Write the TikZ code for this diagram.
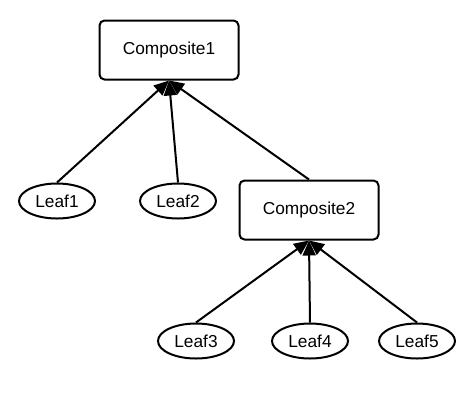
\documentclass[tikz,border=0pt]{standalone}
\usepackage{fontspec}
\setmainfont{Liberation Sans}
\usetikzlibrary{shapes.geometric,arrows.meta}
\begin{document}
\begin{tikzpicture}[x=1pt,y=-1pt,
  comp/.style={draw=black,line width=2pt,rounded corners=5pt,minimum width=139pt,minimum height=59pt,inner sep=0pt,font=\fontsize{17.3}{19}\selectfont},
  leaf/.style={draw=black,ellipse,line width=2pt,minimum width=76pt,minimum height=35pt,inner sep=0pt,font=\fontsize{17.3}{19}\selectfont},
  link/.style={line width=2pt,-{Triangle[length=15pt,width=13pt]}}]
\useasboundingbox (0,0) rectangle (460,400);
\node[comp] (c1) at (169,50) {Composite1};
\node[comp] (c2) at (309,210) {Composite2};
\node[leaf] (l1) at (57,201) {Leaf1};
\node[leaf] (l2) at (178,201) {Leaf2};
\node[leaf] (l3) at (196,341) {Leaf3};
\node[leaf] (l4) at (310,341) {Leaf4};
\node[leaf] (l5) at (417,341) {Leaf5};
\draw[link] (l1.north) -- (c1.south);
\draw[link] (l2.north) -- (c1.south);
\draw[link] (c2.north) -- (c1.south);
\draw[link] (l3.north) -- (c2.south);
\draw[link] (l4.north) -- (c2.south);
\draw[link] (l5.north) -- (c2.south);
\end{tikzpicture}
\end{document}
